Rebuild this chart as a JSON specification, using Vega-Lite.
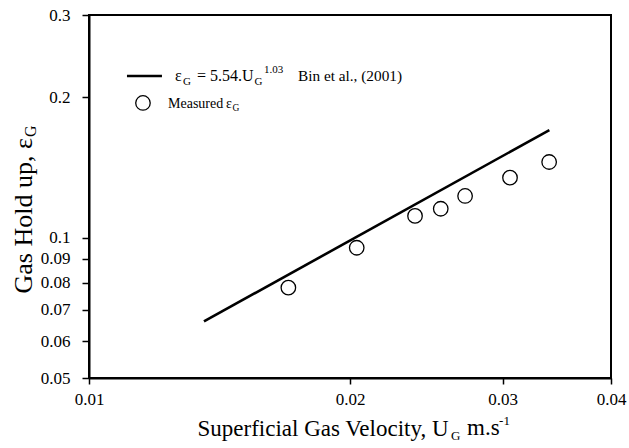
{
  "$schema": "https://vega.github.io/schema/vega-lite/v6.json",
  "width": 522,
  "height": 363,
  "autosize": {"type": "none"},
  "padding": {"left": 89, "top": 15, "right": 18, "bottom": 70},
  "background": "white",
  "config": {
    "font": "Liberation Serif",
    "view": {"stroke": "black", "strokeWidth": 2},
    "axis": {
      "grid": false,
      "domainColor": "black",
      "domainWidth": 2,
      "tickColor": "black",
      "tickWidth": 1.5,
      "labelColor": "black",
      "labelFont": "Liberation Serif",
      "labelFontSize": 17,
      "titleFont": "Liberation Serif",
      "titleColor": "black",
      "titleFontWeight": "normal"
    }
  },
  "datasets": {
    "fit": [{"ug": 0.01357, "eg": 0.0661}, {"ug": 0.03396, "eg": 0.17}],
    "measured": [
      {"ug": 0.01698, "eg": 0.0781},
      {"ug": 0.02036, "eg": 0.0951},
      {"ug": 0.02377, "eg": 0.1113},
      {"ug": 0.02545, "eg": 0.1153},
      {"ug": 0.02715, "eg": 0.1228},
      {"ug": 0.03059, "eg": 0.1344},
      {"ug": 0.03394, "eg": 0.1452}
    ],
    "legLine": [{"ug": 0.011061, "eg": 0.222}, {"ug": 0.012138, "eg": 0.222}],
    "legPoint": [{"ug": 0.011541, "eg": 0.19434}],
    "txt16": [
      {"t": "ε", "ug": 0.012566, "eg": 0.21653},
      {"t": "= 5.54.U", "ug": 0.013323, "eg": 0.21653}
    ],
    "cite": [{"t": "Bin et al., (2001)", "ug": 0.017418, "eg": 0.21653}],
    "sub11": [
      {"t": "G", "ug": 0.012836, "eg": 0.21653},
      {"t": "G", "ug": 0.015522, "eg": 0.21653}
    ],
    "sup11": [{"t": "1.03", "ug": 0.015919, "eg": 0.21653}],
    "txt14": [
      {"t": "Measured", "ug": 0.012335, "eg": 0.18961},
      {"t": "ε", "ug": 0.014391, "eg": 0.18961}
    ],
    "sub9": [{"t": "G", "ug": 0.014641, "eg": 0.18961}],
    "txt23": [{"t": "m.s", "ug": 0.027292, "eg": 0.037735}],
    "sub13": [{"t": "G", "ug": 0.026156, "eg": 0.037735}],
    "sup13": [{"t": "-1", "ug": 0.029717, "eg": 0.037735}],
    "ysub": [{"t": "G", "ug": 0.008571, "eg": 0.16431}]
  },
  "encoding": {
    "x": {
      "field": "ug",
      "type": "quantitative",
      "scale": {"type": "log", "domain": [0.01, 0.04], "nice": false},
      "axis": {
        "values": [0.01, 0.02, 0.03, 0.04],
        "format": "~g",
        "title": "Superficial Gas Velocity, U",
        "titleFontSize": 23,
        "titleAlign": "left",
        "titleAnchor": "start",
        "titleX": 108,
        "titleY": 57,
        "titleBaseline": "alphabetic",
        "tickSize": 6,
        "labelPadding": 7,
        "labelFlush": false,
        "labelOverlap": false
      }
    },
    "y": {
      "field": "eg",
      "type": "quantitative",
      "scale": {"type": "log", "domain": [0.05, 0.3], "nice": false},
      "axis": {
        "values": [0.05, 0.06, 0.07, 0.08, 0.09, 0.1, 0.2, 0.3],
        "format": "~g",
        "title": "Gas Hold up, ε",
        "titleFontSize": 26,
        "titleAngle": 270,
        "titleAlign": "left",
        "titleAnchor": "start",
        "titleX": -58,
        "titleY": 278,
        "titleBaseline": "alphabetic",
        "tickSize": 7,
        "labelPadding": 12,
        "labelFlush": false,
        "labelOverlap": false
      }
    }
  },
  "layer": [
    {"data": {"name": "fit"}, "mark": {"type": "line", "color": "black", "strokeWidth": 2.6}},
    {"data": {"name": "measured"}, "mark": {"type": "point", "shape": "circle", "size": 210, "stroke": "black", "strokeWidth": 1.3, "filled": false, "opacity": 1}},
    {"data": {"name": "legLine"}, "mark": {"type": "line", "color": "black", "strokeWidth": 2.6}},
    {"data": {"name": "legPoint"}, "mark": {"type": "point", "shape": "circle", "size": 210, "stroke": "black", "strokeWidth": 1.3, "filled": false, "opacity": 1}},
    {"data": {"name": "txt16"}, "mark": {"type": "text", "align": "left", "baseline": "alphabetic", "fontSize": 16, "color": "black"}, "encoding": {"text": {"field": "t"}}},
    {"data": {"name": "cite"}, "mark": {"type": "text", "align": "left", "baseline": "alphabetic", "fontSize": 15.3, "color": "black"}, "encoding": {"text": {"field": "t"}}},
    {"data": {"name": "sub11"}, "mark": {"type": "text", "align": "left", "baseline": "alphabetic", "fontSize": 11, "dy": 4, "color": "black"}, "encoding": {"text": {"field": "t"}}},
    {"data": {"name": "sup11"}, "mark": {"type": "text", "align": "left", "baseline": "alphabetic", "fontSize": 11, "dy": -8, "color": "black"}, "encoding": {"text": {"field": "t"}}},
    {"data": {"name": "txt14"}, "mark": {"type": "text", "align": "left", "baseline": "alphabetic", "fontSize": 14, "color": "black"}, "encoding": {"text": {"field": "t"}}},
    {"data": {"name": "sub9"}, "mark": {"type": "text", "align": "left", "baseline": "alphabetic", "fontSize": 9.5, "dy": 3, "color": "black"}, "encoding": {"text": {"field": "t"}}},
    {"data": {"name": "txt23"}, "mark": {"type": "text", "align": "left", "baseline": "alphabetic", "fontSize": 23, "color": "black"}, "encoding": {"text": {"field": "t"}}},
    {"data": {"name": "sub13"}, "mark": {"type": "text", "align": "left", "baseline": "alphabetic", "fontSize": 13, "dy": 5, "color": "black"}, "encoding": {"text": {"field": "t"}}},
    {"data": {"name": "sup13"}, "mark": {"type": "text", "align": "left", "baseline": "alphabetic", "fontSize": 13, "dy": -10, "color": "black"}, "encoding": {"text": {"field": "t"}}},
    {"data": {"name": "ysub"}, "mark": {"type": "text", "align": "left", "baseline": "alphabetic", "fontSize": 16, "angle": 270, "dy": 5, "color": "black"}, "encoding": {"text": {"field": "t"}}}
  ]
}
